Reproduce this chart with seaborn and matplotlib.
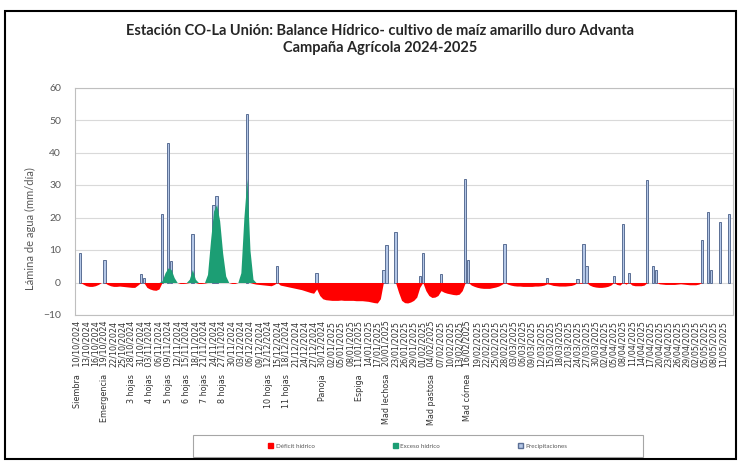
import numpy as np
import pandas as pd
import matplotlib
matplotlib.use("Agg")
import matplotlib.pyplot as plt
from matplotlib.patches import Patch, Rectangle
import seaborn as sns

# ---- data (daily water balance, mm/day) ----
start_date = "2024-10-10"
n_days = 216

deficit = [
    0, 0, -0.5, -1.0, -1.2, -1.2, -1.0, -0.6, 0, 0,
    -0.6, -1.0, -1.2, -1.2, -1.1, -1.2, -1.3, -1.4, -1.5, -1.5,
    -0.8, 0, 0, -1.5, -2.0, -2.3, -2.4, -2.0, 0, 0,
    0, 0, 0, 0, -0.3, -0.3, -0.2, 0, 0, 0,
    -0.3, -0.3, -0.2, 0, 0, 0, 0, 0, 0, 0,
    0, -0.3, -0.3, 0, 0, 0, 0, 0, -0.3, -0.5,
    -0.6, -0.7, -0.8, -0.9, -1.0, -0.6, 0, -0.8, -1.0, -1.2,
    -1.4, -1.6, -1.8, -2.0, -2.2, -2.5, -2.8, -3.1, -3.3, -2.0,
    -4.0, -5.0, -5.3, -5.4, -5.5, -5.5, -5.5, -5.4, -5.5, -5.5,
    -5.5, -5.5, -5.6, -5.6, -5.6, -5.7, -5.8, -6.0, -6.2, -6.3,
    -5.0, 0, 0, 0, 0, 0, -3.0, -5.5, -6.2, -6.3,
    -6.0, -5.5, -4.5, -1.5, 0, -2.5, -4.0, -4.6, -4.5, -4.0,
    -2.5, -3.0, -3.3, -3.5, -3.7, -3.8, -3.6, -2.5, 0, 0,
    -0.8, -1.2, -1.5, -1.7, -1.8, -1.8, -1.8, -1.6, -1.4, -1.1,
    -0.6, 0, -0.5, -0.8, -1.0, -1.1, -1.1, -1.2, -1.2, -1.2,
    -1.2, -1.1, -1.1, -1.0, -0.8, -0.4, -0.6, -0.9, -1.0, -1.1,
    -1.1, -1.1, -1.0, -0.9, -0.6, 0, -0.3, 0, 0, -0.8,
    -1.2, -1.4, -1.5, -1.5, -1.4, -1.2, -0.8, 0, -0.6, -0.8,
    0, -0.5, 0, -0.8, -1.0, -1.0, -1.0, -0.8, 0, 0,
    0, 0, -0.4, -0.5, -0.6, -0.6, -0.6, -0.6, -0.5, -0.4,
    -0.5, -0.6, -0.7, -0.7, -0.7, -0.5, 0, 0, 0, 0,
    0, 0, 0, 0, 0, 0,
]

exceso_days = [28, 29, 30, 31, 32, 37, 38, 39,
               43, 44, 45, 46, 47, 48, 49, 54, 55, 56, 57, 58]
exceso_vals = [0.5, 3.0, 4.5, 4.0, 1.5, 1.0, 4.0, 1.0,
               2.5, 13.0, 22.0, 24.0, 19.0, 9.0, 2.0,
               3.0, 20.0, 32.0, 10.0, 1.0]

precip_days = [1, 9, 21, 22, 28, 30, 31, 38, 45, 46, 56, 66, 79, 101, 102,
               105, 113, 114, 120, 128, 129, 141, 155, 165, 167, 168, 177,
               180, 182, 188, 190, 191, 206, 208, 209, 212, 215]
precip_vals = [9, 7, 2.5, 1.5, 21, 43, 6.5, 15, 24, 26.5, 52, 5, 3, 4, 11.5,
               15.5, 2, 9, 2.7, 32, 7, 12, 1.5, 1.2, 11.7, 5, 2,
               18, 3, 31.5, 5, 4, 13, 21.7, 4, 18.5, 21]

# phenological stages, given as index of the x tick label (ticks every 3 days)
stage_ticks = [0, 3, 6, 8, 10, 12, 14, 16, 21, 23, 27, 31, 34, 39, 43]
stage_names = ["Siembra", "Emergencia", "3 hojas", "4 hojas", "5 hojas",
               "6 hojas", "7 hojas", "8 hojas", "10 hojas", "11 hojas",
               "Panoja", "Espiga", "Mad lechosa", "Mad pastosa", "Mad córnea"]

legend_labels = ["Déficit hídrico", "Exceso hídrico", "Precipitaciones"]

RED = "#FF0000"
GREEN = "#1C9E74"
RAIN_FACE = "#B4C7E7"
RAIN_EDGE = "#5B6F95"

# ---- build daily frame ----
days = np.arange(n_days)
df = pd.DataFrame({"day": days, "deficit": deficit})
df["exceso"] = 0.0
df.loc[df["day"].isin(exceso_days), "exceso"] = exceso_vals
rain = pd.DataFrame({"day": precip_days, "precip": precip_vals})

sns.set_theme(style="white")
plt.rcParams["font.family"] = ["Lato", "DejaVu Sans"]

fig = plt.figure(figsize=(7.4, 4.62), dpi=100)
ax = fig.add_axes([75 / 740, 1 - 315 / 462, 658 / 740, 227.5 / 462])

ax.axhline(0, color="#A6A6A6", lw=0.6, zorder=0.5)
# rain bars first, the balance areas are painted over them
sns.barplot(data=rain, x="day", y="precip", native_scale=True,
            color=RAIN_FACE, edgecolor=RAIN_EDGE, linewidth=0.7,
            saturation=1, errorbar=None, ax=ax, zorder=1)
ax.fill_between(df["day"], df["deficit"], 0, color=RED, lw=0, zorder=2)
ax.fill_between(df["day"], df["exceso"], 0, color=GREEN, lw=0, zorder=2)

# axes styling
ax.set_xlim(-0.7, 216.3)
ax.set_ylim(-10, 60)
ax.set_yticks(np.arange(-10, 61, 10))
ax.yaxis.grid(True, color="#D9D9D9", lw=0.8)
ax.set_axisbelow(True)
for side in ["left", "right", "top", "bottom"]:
    ax.spines[side].set_color("#BFBFBF")
    ax.spines[side].set_linewidth(0.8)
ax.tick_params(axis="y", length=0, labelsize=7.5, labelcolor="#595959", pad=10)
ax.set_xlabel("")
ax.set_ylabel("")

# x tick labels: date, with stage name appended below
tick_days = np.arange(0, n_days, 3)
dates = pd.date_range(start_date, periods=n_days, freq="D")
labels = [dates[d].strftime("%d/%m/%Y") for d in tick_days]
for i, name in zip(stage_ticks, stage_names):
    labels[i] = f"{name}   {labels[i]}"
ax.set_xticks(tick_days)
ax.set_xticklabels(labels, rotation=90, fontsize=5.8, color="#333333",
                   family="DejaVu Sans")
ax.tick_params(axis="x", length=2, color="#BFBFBF", pad=2)

# titles and y label
fig.text(380 / 740, 1 - 31 / 462,
         "Estación CO-La Unión: Balance Hídrico- cultivo de maíz amarillo duro Advanta",
         ha="center", va="center", fontsize=10.5, fontweight="bold", color="#262626")
fig.text(380 / 740, 1 - 48 / 462, "Campaña Agrícola 2024-2025",
         ha="center", va="center", fontsize=10.5, fontweight="bold", color="#262626")
fig.text(30 / 740, 1 - 229 / 462, "Lámina de agua (mm/día)", rotation=90,
         ha="center", va="center", fontsize=8, color="#595959")

# legend with its own box
handles = [Patch(color=RED), Patch(color=GREEN),
           Patch(facecolor=RAIN_FACE, edgecolor=RAIN_EDGE)]
fig.legend(handles, legend_labels, loc="center", ncol=3,
           bbox_to_anchor=(418 / 740, 1 - 446 / 462), frameon=False,
           fontsize=4.5, columnspacing=12.5, handlelength=0.8,
           handleheight=0.8, handletextpad=0.4, labelcolor="#595959")
fig.patches.append(Rectangle((193 / 740, 1 - 457 / 462), 450 / 740, 22 / 462,
                             transform=fig.transFigure, fill=False,
                             ec="#A6A6A6", lw=0.8))

# outer chart border
fig.patches.append(Rectangle((5 / 740, 3 / 462), 731 / 740, 448 / 462,
                             transform=fig.transFigure, fill=False,
                             ec="black", lw=1.5))

fig.savefig("out.png", dpi=100)
